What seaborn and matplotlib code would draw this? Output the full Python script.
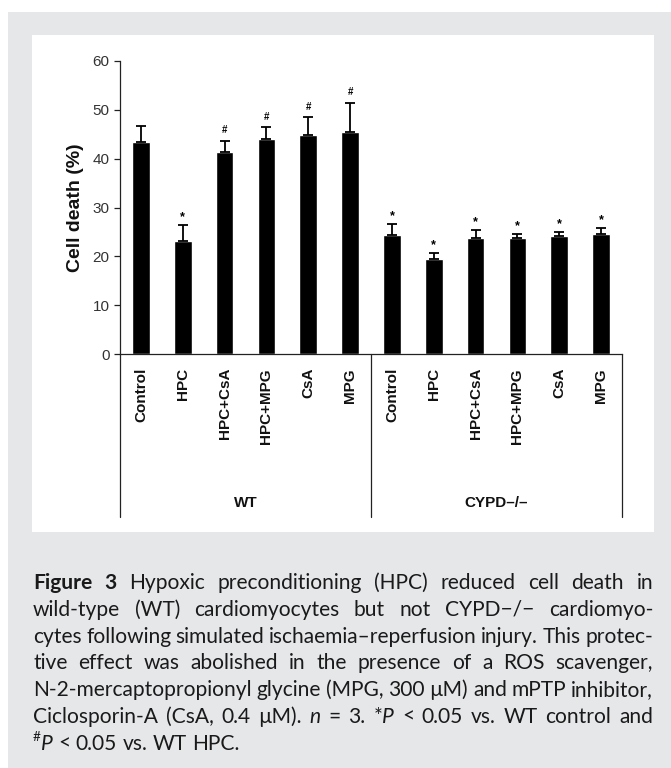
import re
import matplotlib
matplotlib.use('Agg')
import matplotlib.pyplot as plt
import seaborn as sns
import pandas as pd
from matplotlib.patches import Rectangle
from matplotlib.transforms import blended_transform_factory

# ---------------- data ----------------
group_names = ['WT', 'CYPD–/–']
groups = ['WT'] * 6 + ['CYPD–/–'] * 6
treatments = ['Control', 'HPC', 'HPC+CsA', 'HPC+MPG', 'CsA', 'MPG'] * 2
cell_death = [43.5, 23.1, 41.4, 44.1, 44.8, 45.4, 24.3, 19.4, 23.7, 23.7, 24.1, 24.5]
sem = [3.1, 3.3, 2.3, 2.3, 3.7, 6.0, 2.4, 1.3, 1.6, 0.8, 0.8, 1.2]
marks = ['', '*', '#', '#', '#', '#', '*', '*', '*', '*', '*', '*']
yticks = [0, 10, 20, 30, 40, 50, 60]
ylabel = 'Cell death (%)'

caption_lines = [
    "{b:Figure} {b:3} Hypoxic preconditioning (HPC) reduced cell death in",
    "wild-type (WT) cardiomyocytes but not CYPD\u2212/\u2212 cardiomyo-",
    "cytes following simulated ischaemia\u2013reperfusion injury. This protec-",
    "tive effect was abolished in the presence of a ROS scavenger,",
    "N-2-mercaptopropionyl glycine (MPG, 300 \u00b5M) and mPTP inhibitor,",
    "Ciclosporin-A (CsA, 0.4 \u00b5M). {i:n} = 3. *{i:P} < 0.05 vs. WT control and",
    "{s:#}{i:P} < 0.05 vs. WT HPC.",
]

df = pd.DataFrame({
    'key': [f'{g} {t}' for g, t in zip(groups, treatments)],
    'group': groups,
    'treatment': treatments,
    'cell_death': cell_death,
    'sem': sem,
})

# ---------------- figure ----------------
sns.set_style('ticks')
plt.rcParams['font.family'] = ['Liberation Sans', 'DejaVu Sans']

FW, FH = 671, 768
fig = plt.figure(figsize=(FW / 100, FH / 100), dpi=100, facecolor='white')

# page background: gray frame and white panel
fig.patches.append(Rectangle((8 / FW, 0), 1 - 8 / FW, 1 - 12 / FH, transform=fig.transFigure,
                             facecolor='#e6e7e9', edgecolor='none', zorder=-10))
fig.patches.append(Rectangle((32 / FW, 1 - 532 / FH), 622 / FW, 497 / FH, transform=fig.transFigure,
                             facecolor='white', edgecolor='none', zorder=-9))

ax_left, ax_right, ax_top, ax_bot = 120, 622, 61, 354
ax = fig.add_axes([ax_left / FW, 1 - ax_bot / FH, (ax_right - ax_left) / FW, (ax_bot - ax_top) / FH])
ax.set_facecolor('white')

order = list(df['key'])
sns.barplot(data=df, x='key', y='cell_death', order=order, color='black', saturation=1,
            width=0.42, errorbar=None, ax=ax)
xpos = list(range(len(order)))
ax.errorbar(xpos, df['cell_death'], yerr=[[0] * len(order), df['sem']], fmt='none',
            ecolor='black', elinewidth=1.3, capsize=3.5, capthick=1.3, zorder=3)

for x, v, e, m in zip(xpos, df['cell_death'], df['sem'], marks):
    if not m:
        continue
    if m == '*':
        ax.annotate(m, (x, v + e), xytext=(0, 3.5), textcoords='offset points', ha='center',
                    va='baseline', fontsize=9, fontweight='bold', color='black')
    else:
        ax.annotate(m, (x, v + e), xytext=(0, 5.5), textcoords='offset points', ha='center',
                    va='baseline', fontsize=7, fontweight='bold', color='black')

ax.set_xlim(-0.5, len(order) - 0.5)
ax.set_ylim(yticks[0], yticks[-1])
ax.set_yticks(yticks)
ax.set_yticklabels([str(t) for t in yticks], fontsize=11, color='#333333')
ax.set_xticks(xpos)
ax.set_xticklabels(treatments, rotation=90, fontsize=11, fontweight='bold', color='#111111')
ax.tick_params(axis='x', length=0, pad=10)
ax.tick_params(axis='y', length=4.5, width=0.9, pad=3, color='#222222')
ax.set_xlabel('')
ax.set_ylabel(ylabel, fontsize=14, fontweight='bold', labelpad=6, color='#111111')
sns.despine(ax=ax, top=True, right=True)
for s in ['left', 'bottom']:
    ax.spines[s].set_linewidth(0.9)
    ax.spines[s].set_color('#222222')

# group frame below the axis
trans = blended_transform_factory(ax.transData, ax.transAxes)
depth = -(517 - ax_bot) / (ax_bot - ax_top)
for xb in [-0.5, 5.5, len(order) - 0.5]:
    ax.plot([xb, xb], [0, depth], transform=trans, clip_on=False, color='#222222', lw=0.9)
label_y = -(503 - ax_bot) / (ax_bot - ax_top)
for gi, g in enumerate(group_names):
    ax.text(gi * 6 + 2.5, label_y, g, transform=trans, ha='center', va='center',
            fontsize=11, fontweight='bold', color='#111111')

# ---------------- caption (justified) ----------------
renderer = fig.canvas.get_renderer()
cap_family = ['Lato', 'DejaVu Sans']
cap_color = '#1a1a1a'
cap_x0, cap_w = 33, 620
baseline0, line_step = 589, 26.8


def seg_props(style, fs):
    p = dict(family=cap_family, fontsize=fs, color=cap_color)
    if style == 'b':
        p['fontweight'] = 'bold'
    elif style == 'i':
        p['fontstyle'] = 'italic'
    elif style == 's':
        p['fontsize'] = fs * 0.65
    return p


def parse_word(w):
    segs = []
    pos = 0
    for m in re.finditer(r'\{([bis]):(.*?)\}', w):
        if m.start() > pos:
            segs.append((w[pos:m.start()], 'r'))
        segs.append((m.group(2), m.group(1)))
        pos = m.end()
    if pos < len(w):
        segs.append((w[pos:], 'r'))
    return segs


def width_of(t):
    return t.get_window_extent(renderer=renderer).width


def layout_widths(fs):
    probe1 = fig.text(0, 0, 'a a', **seg_props('r', fs))
    probe2 = fig.text(0, 0, 'aa', **seg_props('r', fs))
    sw = width_of(probe1) - width_of(probe2)
    probe1.remove()
    probe2.remove()
    nat = []
    for line in caption_lines[:-1]:
        words = [parse_word(w) for w in line.split(' ')]
        tot = 0
        for segs in words:
            for txt, st in segs:
                t = fig.text(0, 0, txt, **seg_props(st, fs))
                tot += width_of(t)
                t.remove()
        tot += sw * (len(words) - 1)
        nat.append(tot)
    return sw, max(nat)


fs0 = 12.0
_, maxnat = layout_widths(fs0)
cap_fs = fs0 * cap_w / maxnat * 1.01
space_w, _ = layout_widths(cap_fs)

for li, line in enumerate(caption_lines):
    words = [parse_word(w) for w in line.split(' ')]
    placed = []
    word_widths = []
    for segs in words:
        objs = []
        ww = 0
        for txt, st in segs:
            t = fig.text(0, 0, txt, va='baseline', ha='left', **seg_props(st, cap_fs))
            w = width_of(t)
            objs.append((t, st, w))
            ww += w
        placed.append(objs)
        word_widths.append(ww)
    last = li == len(caption_lines) - 1
    if last or len(words) == 1:
        gap = space_w
    else:
        gap = (cap_w - sum(word_widths)) / (len(words) - 1)
    x = cap_x0
    yb = baseline0 + li * line_step
    for objs, ww in zip(placed, word_widths):
        xx = x
        for t, st, w in objs:
            dy = cap_fs * 0.42 * 100 / 72 if st == 's' else 0
            t.set_position((xx / FW, 1 - (yb - dy) / FH))
            xx += w
        x += ww + gap

fig.savefig('out.png', dpi=100, facecolor='white')
